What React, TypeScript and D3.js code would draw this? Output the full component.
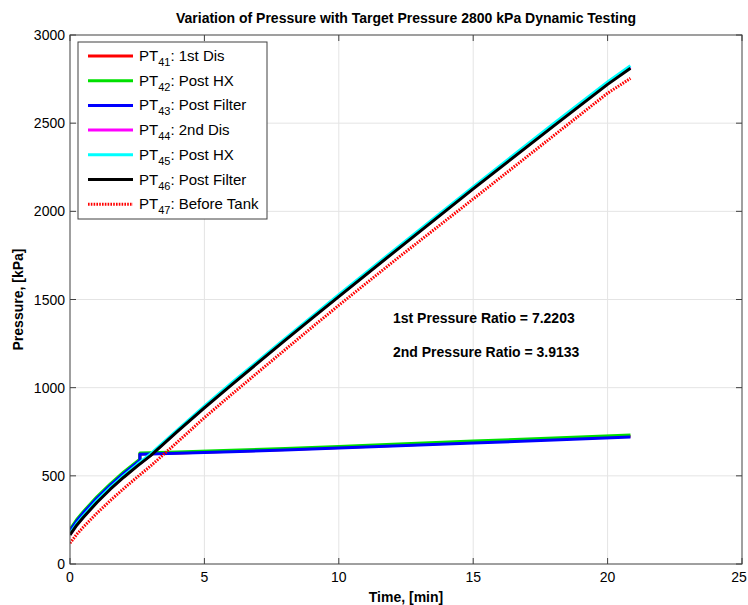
import { useEffect, useRef } from "react";
import * as d3 from "d3";

// time axis for the upper group (2nd stage) and the lower group (1st stage)
const tUpper = [0, 0.25, 0.5, 1, 1.5, 2, 2.5, 3, 4, 5, 6, 7, 8, 9, 10, 12, 15, 18, 20, 20.85];
const pt44 = [167, 222, 268, 352, 427, 495, 558, 618, 755, 889, 1019, 1146, 1272, 1397, 1520, 1766, 2132, 2490, 2726, 2818];
const pt45 = [173, 228, 274, 358, 433, 501, 564, 624, 761, 895, 1025, 1152, 1278, 1403, 1527, 1773, 2139, 2498, 2734, 2826];
const pt46 = [165, 220, 265, 349, 424, 492, 555, 615, 752, 886, 1015, 1142, 1268, 1393, 1516, 1762, 2127, 2485, 2720, 2811];
const pt47 = [118, 168, 210, 288, 360, 428, 493, 556, 692, 830, 960, 1088, 1215, 1342, 1467, 1712, 2070, 2430, 2670, 2754];

const tLower = [0, 0.25, 0.5, 1, 1.5, 2, 2.6, 2.6, 4, 6, 8, 10, 12, 15, 18, 20.85];
const pt41 = [190, 246, 292, 375, 448, 516, 590, 624, 630, 639, 649, 661, 672, 690, 707, 724];
const pt42 = [196, 252, 298, 381, 454, 522, 595, 629, 635, 645, 655, 667, 679, 697, 714, 731];
const pt43 = [188, 244, 290, 373, 446, 514, 588, 622, 628, 637, 646, 658, 669, 686, 703, 720];

const xTicks = [0, 5, 10, 15, 20, 25];
const yTicks = [0, 500, 1000, 1500, 2000, 2500, 3000];

const series = [
  { sub: "41", label: ": 1st Dis", t: tLower, v: pt41, color: "#ff0000", dotted: false },
  { sub: "42", label: ": Post HX", t: tLower, v: pt42, color: "#00e000", dotted: false },
  { sub: "43", label: ": Post Filter", t: tLower, v: pt43, color: "#0000ff", dotted: false },
  { sub: "44", label: ": 2nd Dis", t: tUpper, v: pt44, color: "#ff00ff", dotted: false },
  { sub: "45", label: ": Post HX", t: tUpper, v: pt45, color: "#00ffff", dotted: false },
  { sub: "46", label: ": Post Filter", t: tUpper, v: pt46, color: "#000000", dotted: false },
  { sub: "47", label: ": Before Tank", t: tUpper, v: pt47, color: "#ff0000", dotted: true },
];

const W = 748;
const H = 605;
const FONT = "'Liberation Sans', Arial, sans-serif";

export default function App() {
  const ref = useRef<SVGSVGElement>(null);

  useEffect(() => {
    const svg = d3.select(ref.current);
    svg.selectAll("*").remove();

    const margin = { top: 35, right: 6, bottom: 41, left: 70 };
    const x = d3.scaleLinear().domain([0, 25]).range([margin.left, W - margin.right]);
    const y = d3.scaleLinear().domain([0, 3000]).range([H - margin.bottom, margin.top]);
    const [x0, x1] = x.range();
    const [y0, y1] = y.range();

    svg.append("rect").attr("width", W).attr("height", H).attr("fill", "#fff");

    // grid
    const grid = svg.append("g").attr("stroke", "#e4e4e4").attr("stroke-width", 1);
    xTicks.slice(1, -1).forEach((t) => {
      grid.append("line").attr("x1", x(t)).attr("x2", x(t)).attr("y1", y1).attr("y2", y0);
    });
    yTicks.slice(1, -1).forEach((t) => {
      grid.append("line").attr("x1", x0).attr("x2", x1).attr("y1", y(t)).attr("y2", y(t));
    });

    // lines
    const clip = svg.append("defs").append("clipPath").attr("id", "plotclip");
    clip.append("rect").attr("x", x0).attr("y", y1).attr("width", x1 - x0).attr("height", y0 - y1);
    const plot = svg.append("g").attr("clip-path", "url(#plotclip)");
    const line = d3
      .line<[number, number]>()
      .x((d) => x(d[0]))
      .y((d) => y(d[1]));
    series.forEach((s) => {
      const pts = s.t.map((t, i) => [t, s.v[i]] as [number, number]);
      plot
        .append("path")
        .attr("d", line(pts))
        .attr("fill", "none")
        .attr("stroke", s.color)
        .attr("stroke-width", 3)
        .attr("stroke-dasharray", s.dotted ? "1.6,1.2" : null)
        .attr("stroke-linejoin", "round");
    });

    // axes box and ticks
    const ax = svg.append("g").attr("stroke", "#404040").attr("stroke-width", 1).attr("fill", "none");
    ax.append("rect").attr("x", x0).attr("y", y1).attr("width", x1 - x0).attr("height", y0 - y1);
    xTicks.forEach((t) => {
      ax.append("line").attr("x1", x(t)).attr("x2", x(t)).attr("y1", y0).attr("y2", y0 - 6);
      ax.append("line").attr("x1", x(t)).attr("x2", x(t)).attr("y1", y1).attr("y2", y1 + 6);
    });
    yTicks.forEach((t) => {
      ax.append("line").attr("x1", x0).attr("x2", x0 + 6).attr("y1", y(t)).attr("y2", y(t));
      ax.append("line").attr("x1", x1).attr("x2", x1 - 6).attr("y1", y(t)).attr("y2", y(t));
    });

    const txt = svg.append("g").attr("font-family", FONT).attr("fill", "#000");
    xTicks.forEach((t) => {
      // keep the last label inside the picture
      const px = Math.min(x(t), W - 9);
      txt.append("text").attr("x", px).attr("y", y0 + 18).attr("text-anchor", "middle")
        .attr("font-size", 14).text(t);
    });
    yTicks.forEach((t) => {
      txt.append("text").attr("x", x0 - 5).attr("y", y(t) + 5).attr("text-anchor", "end")
        .attr("font-size", 14).text(t);
    });

    // title and labels
    txt.append("text").attr("x", (x0 + x1) / 2).attr("y", 23).attr("text-anchor", "middle")
      .attr("font-size", 14).attr("font-weight", "bold").text("Variation of Pressure with Target Pressure 2800 kPa Dynamic Testing");
    txt.append("text").attr("x", (x0 + x1) / 2).attr("y", 602).attr("text-anchor", "middle")
      .attr("font-size", 14).attr("font-weight", "bold").text("Time, [min]");
    txt.append("text").attr("transform", `translate(23,${(y0 + y1) / 2}) rotate(-90)`).attr("text-anchor", "middle")
      .attr("font-size", 14).attr("font-weight", "bold").text("Pressure, [kPa]");

    // annotations
    txt.append("text").attr("x", 393).attr("y", 323).attr("font-size", 14).attr("font-weight", "bold")
      .text("1st Pressure Ratio = 7.2203");
    txt.append("text").attr("x", 393).attr("y", 357).attr("font-size", 14).attr("font-weight", "bold")
      .text("2nd Pressure Ratio = 3.9133");

    // legend
    const lg = svg.append("g");
    lg.append("rect").attr("x", 78).attr("y", 42).attr("width", 189).attr("height", 177)
      .attr("fill", "#fff").attr("stroke", "#404040").attr("stroke-width", 1);
    series.forEach((s, i) => {
      const ly = 56 + i * 24.7;
      lg.append("line").attr("x1", 88).attr("x2", 133).attr("y1", ly).attr("y2", ly)
        .attr("stroke", s.color).attr("stroke-width", 3)
        .attr("stroke-dasharray", s.dotted ? "1.6,1.2" : null);
      const t = lg.append("text").attr("x", 139).attr("y", ly + 5).attr("font-family", FONT)
        .attr("font-size", 15).attr("fill", "#000");
      t.append("tspan").text("PT");
      t.append("tspan").attr("font-size", 11).attr("dy", 5).text(s.sub);
      t.append("tspan").attr("dy", -5).text(s.label);
    });
  }, []);

  return (
    <div style={{ position: "absolute", left: 0, top: 0 }}>
      <svg ref={ref} width={W} height={H} style={{ display: "block" }} />
    </div>
  );
}
